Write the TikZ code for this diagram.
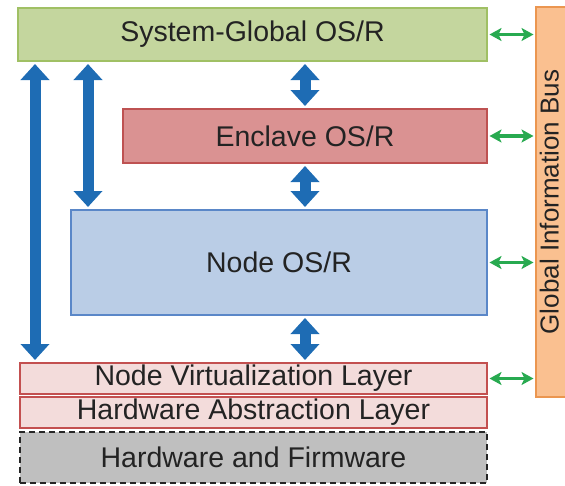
\documentclass[tikz,border=0pt]{standalone}
\usepackage{fontspec}
\setmainfont{Liberation Sans}
\usetikzlibrary{arrows.meta}
\definecolor{sgfill}{RGB}{196,214,158}
\definecolor{sgdraw}{RGB}{160,192,100}
\definecolor{encfill}{RGB}{218,146,146}
\definecolor{encdraw}{RGB}{190,82,82}
\definecolor{nosfill}{RGB}{186,205,230}
\definecolor{nosdraw}{RGB}{90,135,200}
\definecolor{layfill}{RGB}{243,220,219}
\definecolor{laydraw}{RGB}{195,80,80}
\definecolor{hwfill}{RGB}{191,191,191}
\definecolor{busfill}{RGB}{250,192,144}
\definecolor{busdraw}{RGB}{235,150,80}
\definecolor{arrblue}{RGB}{30,108,180}
\definecolor{arrgreen}{RGB}{40,170,80}
\definecolor{txt}{RGB}{35,35,35}
\begin{document}
\begin{tikzpicture}[x=1pt,y=-1pt,
  box/.style={draw, line width=2pt, rectangle, inner sep=0pt, text=txt,
    font=\fontsize{28.5}{30}\selectfont},
  bluearr/.style={draw=arrblue, line width=11pt,
    {Triangle[width=28pt,length=16pt]}-{Triangle[width=28pt,length=16pt]},
    shorten <=2pt, shorten >=2pt},
  greenarr/.style={draw=arrgreen, line width=3.5pt,
    {Stealth[width=13pt,length=12pt,inset=3pt]}-{Stealth[width=13pt,length=12pt,inset=3pt]},
    shorten <=1.5pt, shorten >=1.5pt}]
\useasboundingbox (0,0) rectangle (565,485);

\node[box, fill=sgfill, draw=sgdraw, minimum width=469pt, minimum height=53pt] (sg) at (252.5,34.5) {System-Global OS/R};
\node[box, fill=encfill, draw=encdraw, minimum width=364pt, minimum height=54pt] (enc) at (305,136) {Enclave OS/R};
\node[box, fill=nosfill, draw=nosdraw, minimum width=416pt, minimum height=105pt] (nos) at (279,262.5) {Node OS/R};
\node[box, fill=layfill, draw=laydraw, minimum width=467pt, minimum height=31pt] (nvl) at (253.5,378.5) {Node Virtualization Layer};
\node[box, fill=layfill, draw=laydraw, minimum width=467pt, minimum height=31pt] (hal) at (253.5,412.5) {Hardware Abstraction Layer};
\node[box, fill=hwfill, draw=black!85, dash pattern=on 6pt off 4pt, minimum width=467pt, minimum height=51pt] (hw) at (253.5,457.5) {Hardware and Firmware};
\node[box, fill=busfill, draw=busdraw, minimum width=30pt, minimum height=390pt] (bus) at (551,202) {};
\node[rotate=90, anchor=base, inner sep=0pt, text=txt, font=\fontsize{26}{28}\selectfont] (bustext) at (558.5,202) {Global Information Bus};

\coordinate (c1) at (35,0);
\coordinate (c2) at (88,0);
\coordinate (c3) at (305,0);

\draw[bluearr] (sg.south -| c1) -- (nvl.north -| c1);
\draw[bluearr] (sg.south -| c2) -- (nos.north -| c2);
\draw[bluearr] (sg.south -| c3) -- (enc.north -| c3);
\draw[bluearr] (enc.south -| c3) -- (nos.north -| c3);
\draw[bluearr] (nos.south -| c3) -- (nvl.north -| c3);

\draw[greenarr] (sg.east) -- (sg.east -| bus.west);
\draw[greenarr] (enc.east) -- (enc.east -| bus.west);
\draw[greenarr] (nos.east) -- (nos.east -| bus.west);
\draw[greenarr] (nvl.east) -- (nvl.east -| bus.west);
\end{tikzpicture}
\end{document}
